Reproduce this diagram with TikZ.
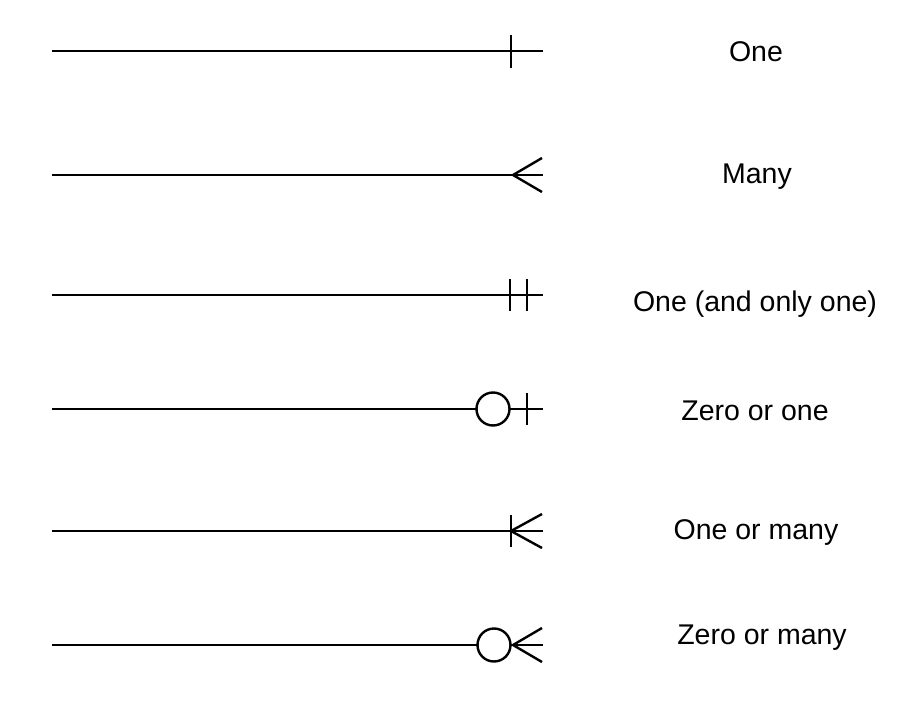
\documentclass[tikz,border=0pt]{standalone}
\usepackage{fontspec}
\setmainfont{Liberation Sans}
\usepackage{tikz}
\usetikzlibrary{positioning}

\begin{document}
\begin{tikzpicture}[x=1pt,y=-1pt,line width=2.4pt,font=\fontsize{28.5}{34}\selectfont]
  \useasboundingbox (0,0) rectangle (906,704);
  \tikzset{ring/.style={draw,fill=white,circle,minimum size=33pt,inner sep=0pt}}

  % line ends
  \foreach \n/\y in {1/51,2/175,3/295,4/409,5/531,6/645} {
    \coordinate (s\n) at (52,\y);
    \coordinate (e\n) at (543,\y);
    \draw (s\n) -- (e\n);
  }

  % one
  \draw (511,35) -- (511,68);
  % many
  \draw (542,158) -- (513,175) -- (542,192);
  % one and only one
  \draw (510,279) -- (510,311);
  \draw (527,279) -- (527,311);
  % zero or one
  \node[ring] (z4) at (493,409) {};
  \draw (527,393) -- (527,425);
  % one or many
  \draw (511,515) -- (511,547);
  \draw (542,514) -- (511,531) -- (542,548);
  % zero or many
  \node[ring] (z6) at (494,645) {};
  \draw (542,628) -- (513,645) -- (542,662);

  \node (one) at (756,52) {One};
  \node (many) at (757,177) {Many};
  \node (onlyone) at (755,304) {One (and only one)};
  \node (zeroone) at (755,411) {Zero or one};
  \node (onemany) at (756,533) {One or many};
  \node (zeromany) at (762,638) {Zero or many};
\end{tikzpicture}
\end{document}
